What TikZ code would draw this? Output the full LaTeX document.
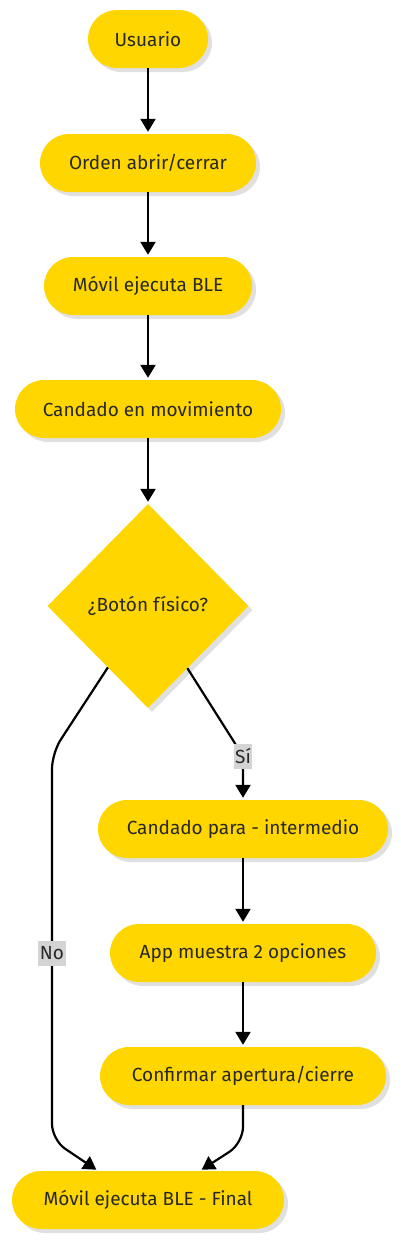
\documentclass[tikz,border=0pt]{standalone}
\usepackage{fontspec}
\setmainfont{Fira Sans}
\usetikzlibrary{arrows.meta}
\usetikzlibrary{shapes.geometric}
\usetikzlibrary{shadows}
\definecolor{flowyellow}{RGB}{255,214,0}
\definecolor{flowtext}{RGB}{40,40,40}
\definecolor{lblgray}{RGB}{212,212,212}

\begin{document}
\begin{tikzpicture}[x=1pt,y=-1pt,
    shade/.style={drop shadow={shadow xshift=4pt,shadow yshift=-4pt,fill=black!12,opacity=1}},
    box/.style={rectangle,rounded corners=29pt,fill=flowyellow,minimum height=58pt,
      inner xsep=10pt,text=flowtext,font=\fontsize{19}{22}\selectfont,shade},
    decision/.style={diamond,fill=flowyellow,minimum width=201pt,minimum height=204pt,
      inner sep=0pt,text=flowtext,font=\fontsize{19}{22}\selectfont,shade},
    lbl/.style={rectangle,sharp corners,fill=lblgray,text=flowtext,inner xsep=1.5pt,inner ysep=0pt,
      minimum height=25pt,font=\fontsize{19}{21}\selectfont},
    flow/.style={line width=2.2pt,-{Triangle[length=13pt,width=15pt]},shorten >=2pt}]
    \useasboundingbox (0,0) rectangle (400,1240);

    % draw nodes
    \node[box,minimum width=120pt] (usr) at (148,39) {Usuario};
    \node[box,minimum width=216pt] (ord) at (148,163) {Orden abrir/cerrar};
    \node[box,minimum width=208pt] (mob) at (148,286) {Móvil ejecuta BLE};
    \node[box,minimum width=266pt] (mov) at (148,409) {Candado en movimiento};
    \node[decision] (dia) at (148,606) {¿Botón físico?};
    \node[box,minimum width=290pt] (par) at (243,829) {Candado para - intermedio};
    \node[box,minimum width=266pt] (app) at (243,953) {App muestra 2 opciones};
    \node[box,minimum width=286pt] (cnf) at (243,1076) {Confirmar apertura/cierre};
    \node[box,minimum width=272pt] (fin) at (148,1200) {Móvil ejecuta BLE - Final};

    % bends
    \coordinate (siBend) at (243,756);
    \coordinate (noTop) at (52,753);
    \coordinate (noBot) at (52,1140);
    \coordinate (cfBend) at (243,1143);

    % draw arrows
    \draw[flow] (usr) -- (ord);
    \draw[flow] (ord) -- (mob);
    \draw[flow] (mob) -- (mov);
    \draw[flow] (mov) -- (dia);
    \draw[flow,rounded corners=16pt] (dia) -- (siBend) node[lbl] {Sí} -- (par);
    \draw[flow] (par) -- (app);
    \draw[flow] (app) -- (cnf);
    \draw[flow,rounded corners=16pt] (dia) -- (noTop) -- node[lbl,pos=0.517] {No} (noBot) -- ([xshift=-50pt]fin.north);
    \draw[flow,rounded corners=16pt] (cnf) -- (cfBend) -- ([xshift=52pt]fin.north);

\end{tikzpicture}
\end{document}
